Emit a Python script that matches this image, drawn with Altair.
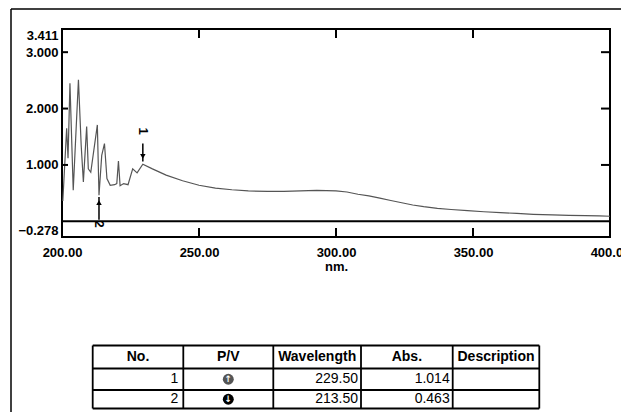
import altair as alt
import pandas as pd

# ---- spectrum data ----
wavelength = [200.3, 201.7, 202.2, 202.9, 204.1, 206.0, 207.0, 207.8, 209.0, 209.6,
              210.5, 212.9, 213.5, 214.5, 215.5, 216.4, 217.6, 219.2, 220.0, 220.6,
              221.2, 222.5, 224.1, 225.8, 227.4, 229.5, 233, 238, 244, 250,
              256, 262, 268, 275, 281, 287, 293, 300, 304, 308,
              312, 316, 320, 324, 328, 332, 337, 342, 348, 354,
              360, 366, 372, 379, 385, 391, 396, 400]
absorbance = [0.36, 1.65, 1.12, 2.45, 0.55, 2.51, 1.35, 0.70, 1.68, 0.93,
              0.87, 1.71, 0.463, 1.17, 1.38, 0.76, 0.64, 0.65, 0.67, 1.07,
              0.63, 0.67, 0.65, 0.93, 0.86, 1.014, 0.93, 0.82, 0.72, 0.64,
              0.59, 0.56, 0.54, 0.53, 0.53, 0.54, 0.55, 0.54, 0.52, 0.48,
              0.45, 0.41, 0.37, 0.33, 0.29, 0.26, 0.23, 0.21, 0.19, 0.17,
              0.155, 0.14, 0.125, 0.115, 0.105, 0.10, 0.095, 0.09]

y_ticks = [-0.278, 1.0, 2.0, 3.0, 3.411]
x_ticks = [200, 250, 300, 350, 400]
inner_y_ticks = [1.0, 2.0, 3.0]
inner_x_ticks = [250, 300, 350]

# ---- peak / valley table ----
peak_no = [1, 2]
peak_type = ["peak", "valley"]
peak_wl = [229.50, 213.50]
peak_abs = [1.014, 0.463]
headers = ["No.", "P/V", "Wavelength", "Abs.", "Description"]

FONT = "Liberation Sans"
W, H = 548, 208

spec_df = pd.DataFrame({"wl": wavelength, "abs": absorbance})
xs = alt.Scale(domain=[200, 400], nice=False, zero=False)
ys = alt.Scale(domain=[-0.278, 3.411], nice=False, zero=False)

line = alt.Chart(spec_df).mark_line(color="#555555", strokeWidth=1.2).encode(
    x=alt.X("wl:Q", scale=xs,
            axis=alt.Axis(values=x_ticks, format=".2f", title="nm.", ticks=False, domain=False,
                          grid=False, labelFlush=False, labelPadding=9, titlePadding=1,
                          labelFont=FONT, labelFontWeight="bold", labelFontSize=13, labelColor="black",
                          titleFont=FONT, titleFontWeight="bold", titleFontSize=13, titleColor="black")),
    y=alt.Y("abs:Q", scale=ys,
            axis=alt.Axis(values=y_ticks, format=".3f", title=None, ticks=False, domain=False,
                          grid=False, labelFlush=True, labelPadding=4,
                          labelFont=FONT, labelFontWeight="bold", labelFontSize=13, labelColor="black")),
)

base_df = pd.DataFrame({"x1": [200], "x2": [400], "y": [0.0]})
baseline = alt.Chart(base_df).mark_rule(color="black", strokeWidth=2).encode(
    x=alt.X("x1:Q", scale=xs), x2="x2:Q", y=alt.Y("y:Q", scale=ys))

yt_df = pd.DataFrame({"v": inner_y_ticks})
left_ticks = alt.Chart(yt_df).mark_rule(color="black", strokeWidth=2).encode(
    y=alt.Y("v:Q", scale=ys), x=alt.value(0), x2=alt.value(6))
right_ticks = alt.Chart(yt_df).mark_rule(color="black", strokeWidth=2).encode(
    y=alt.Y("v:Q", scale=ys), x=alt.value(W - 9), x2=alt.value(W))
xt_df = pd.DataFrame({"v": inner_x_ticks})
bottom_ticks = alt.Chart(xt_df).mark_rule(color="black", strokeWidth=2).encode(
    x=alt.X("v:Q", scale=xs), y=alt.value(H - 9), y2=alt.value(H))
top_ticks = alt.Chart(xt_df).mark_rule(color="black", strokeWidth=2).encode(
    x=alt.X("v:Q", scale=xs), y=alt.value(0), y2=alt.value(9))

# peak / valley markers
mk_df = pd.DataFrame({
    "wl": peak_wl,
    "label": [str(n) for n in peak_no],
    "shaft_a": [1.06, 0.03],
    "shaft_b": [1.38, 0.43],
    "head": [1.15, 0.33],
    "shape": ["triangle-down", "triangle-up"],
    "label_y": [1.60, -0.05],
})
shafts = alt.Chart(mk_df).mark_rule(color="black", strokeWidth=1.5).encode(
    x=alt.X("wl:Q", scale=xs), y=alt.Y("shaft_a:Q", scale=ys), y2="shaft_b:Q")
heads = alt.Chart(mk_df).mark_point(filled=True, color="black", opacity=1, size=30).encode(
    x=alt.X("wl:Q", scale=xs), y=alt.Y("head:Q", scale=ys),
    shape=alt.Shape("shape:N", scale=None))
mk_labels = alt.Chart(mk_df).mark_text(font=FONT, fontWeight="bold", fontSize=13, angle=90,
                                       color="black").encode(
    x=alt.X("wl:Q", scale=xs), y=alt.Y("label_y:Q", scale=ys), text="label:N")

# outer page border
one = pd.DataFrame({"a": [0]})
border_left = alt.Chart(one).mark_rule(color="black", strokeWidth=1.5).encode(
    x=alt.value(-51), y=alt.value(-20), y2=alt.value(400))
border_top = alt.Chart(one).mark_rule(color="black", strokeWidth=1.5).encode(
    x=alt.value(-51), x2=alt.value(W + 40), y=alt.value(-20))

spectrum = alt.layer(border_left, border_top, line, baseline, left_ticks, right_ticks,
                     bottom_ticks, top_ticks, shafts, heads, mk_labels)

# ---- table layer (own scales) ----
tx = alt.Scale(domain=[0, 1, 2, 3, 4, 5], range=[30.7, 121.3, 211.3, 299.0, 390.7, 477.3])
ty = alt.Scale(domain=[0, 1, 2, 3], range=[316.5, 339.5, 361.0, 379.5])

h_df = pd.DataFrame({"r": [0, 1, 2, 3], "c0": 0, "c1": 5})
v_df = pd.DataFrame({"c": [0, 1, 2, 3, 4, 5], "r0": 0, "r1": 3})
hlines = alt.Chart(h_df).mark_rule(color="black", strokeWidth=1.8).encode(
    y=alt.Y("r:Q", scale=ty, axis=None), x=alt.X("c0:Q", scale=tx, axis=None), x2="c1:Q")
vlines = alt.Chart(v_df).mark_rule(color="black", strokeWidth=1.8).encode(
    x=alt.X("c:Q", scale=tx, axis=None), y=alt.Y("r0:Q", scale=ty, axis=None), y2="r1:Q")

hd_df = pd.DataFrame({"text": headers, "c": [0.5, 1.5, 2.5, 3.5, 4.5], "r": 0.5})
head_text = alt.Chart(hd_df).mark_text(font=FONT, fontWeight="bold", fontSize=14,
                                       color="black").encode(
    x=alt.X("c:Q", scale=tx, axis=None), y=alt.Y("r:Q", scale=ty, axis=None), text="text:N")

rows_df = pd.DataFrame({
    "no": peak_no, "type": peak_type, "wl": peak_wl, "abs": peak_abs,
    "r": [1.5, 2.5],
    "c_no": 1, "c_pv": 1.5, "c_wl": 3, "c_abs": 4,
    "icon_color": ["#555555", "black"],
    "arrow": ["↑", "↓"],
})
body = alt.Chart(rows_df)
no_text = body.mark_text(font=FONT, fontSize=14, align="right", dx=-5, color="black").encode(
    x=alt.X("c_no:Q", scale=tx, axis=None), y=alt.Y("r:Q", scale=ty, axis=None), text="no:N")
wl_text = body.mark_text(font=FONT, fontSize=14, align="right", dx=-3, color="black").encode(
    x=alt.X("c_wl:Q", scale=tx, axis=None), y=alt.Y("r:Q", scale=ty, axis=None),
    text=alt.Text("wl:Q", format=".2f"))
abs_text = body.mark_text(font=FONT, fontSize=14, align="right", dx=-3, color="black").encode(
    x=alt.X("c_abs:Q", scale=tx, axis=None), y=alt.Y("r:Q", scale=ty, axis=None),
    text=alt.Text("abs:Q", format=".3f"))
icons = body.mark_point(filled=True, opacity=1, size=120, shape="circle").encode(
    x=alt.X("c_pv:Q", scale=tx, axis=None), y=alt.Y("r:Q", scale=ty, axis=None),
    color=alt.Color("icon_color:N", scale=None))
icon_arrows = body.mark_text(font="DejaVu Sans", fontSize=9, fontWeight="bold",
                             color="white").encode(
    x=alt.X("c_pv:Q", scale=tx, axis=None), y=alt.Y("r:Q", scale=ty, axis=None), text="arrow:N")

table = alt.layer(hlines, vlines, head_text, no_text, wl_text, abs_text, icons, icon_arrows)

chart = alt.layer(spectrum, table).resolve_scale(x="independent", y="independent").properties(
    width=W, height=H,
    autosize=alt.AutoSizeParams(type="none"),
    padding={"left": 62, "top": 29, "right": 11, "bottom": 175},
    background="white",
).configure_view(stroke="black", strokeWidth=2)

chart.save("out.html", embed_options={"renderer": "svg", "actions": False})
